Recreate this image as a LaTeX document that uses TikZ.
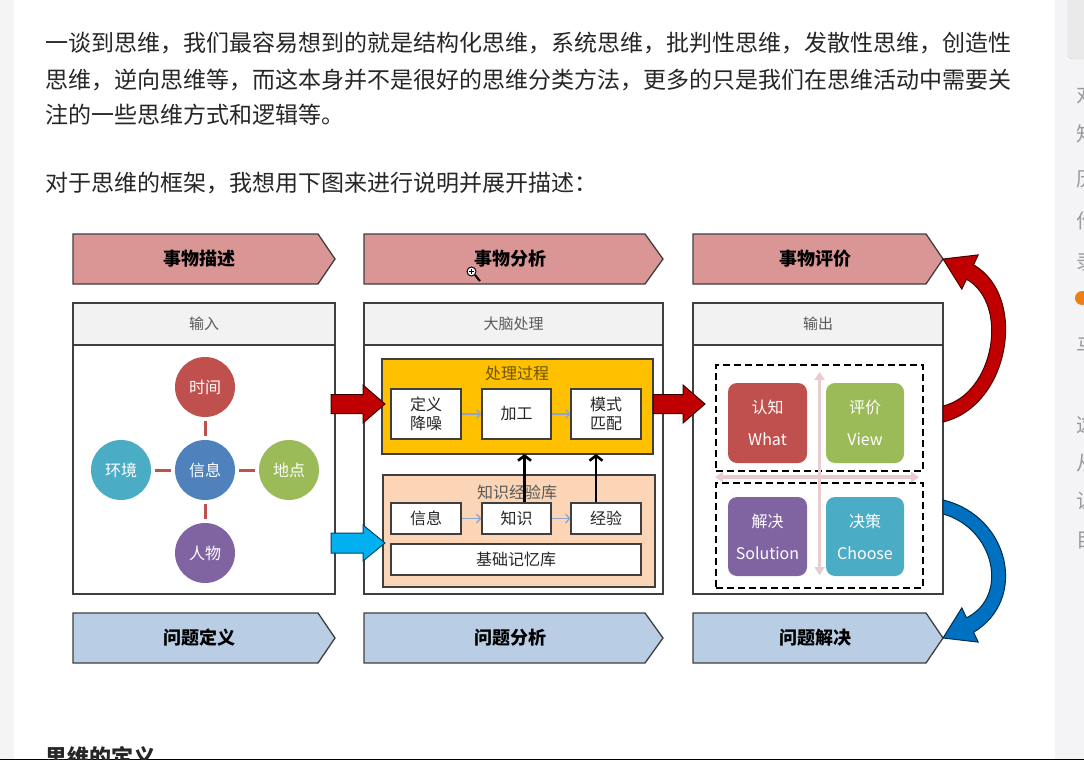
\documentclass[tikz,border=0pt]{standalone}
\usepackage{fontspec}
\setmainfont{Noto Sans CJK SC}
\usetikzlibrary{calc,arrows.meta}
\definecolor{cText}{HTML}{262626}
\definecolor{cPage}{HTML}{F4F4F4}
\definecolor{cSide}{HTML}{F4F4F6}
\definecolor{cSideBlk}{HTML}{EAEAEA}
\definecolor{cSideTxt}{HTML}{9A9A9A}
\definecolor{cHdrRed}{HTML}{D99694}
\definecolor{cHdrBlue}{HTML}{B9CDE5}
\definecolor{cLine}{HTML}{3F3F3F}
\definecolor{cStrip}{HTML}{F2F2F2}
\definecolor{cRed}{HTML}{C0504D}
\definecolor{cBlue}{HTML}{4F81BD}
\definecolor{cTeal}{HTML}{4BACC6}
\definecolor{cGreen}{HTML}{9BBB59}
\definecolor{cPurple}{HTML}{8064A2}
\definecolor{cYellow}{HTML}{FFC000}
\definecolor{cPeach}{HTML}{FBD5B5}
\definecolor{cGreyArr}{HTML}{8EA6CC}
\definecolor{cPink}{HTML}{E8CCD0}
\definecolor{cDarkRed}{HTML}{C00000}
\definecolor{cCyan}{HTML}{00B0F0}
\definecolor{cRibBlue}{HTML}{0070C0}
\definecolor{cTitle}{HTML}{595959}
\definecolor{cProcTitle}{HTML}{6B5400}
\begin{document}
\begin{tikzpicture}[x=1pt,y=-1pt,
  bodytext/.style={anchor=west,inner sep=0pt,text=cText,font=\fontsize{23}{23}\selectfont},
  sidetxt/.style={anchor=west,inner sep=0pt,text=cSideTxt,font=\fontsize{20}{20}\selectfont},
  hdrR/.style={fill=cHdrRed,draw=cLine,line width=1.3pt,line join=miter},
  hdrB/.style={fill=cHdrBlue,draw=cLine,line width=1.3pt,line join=miter},
  hdrtext/.style={inner sep=0pt,text=black,font=\fontsize{18}{18}\selectfont\bfseries},
  colbox/.style={anchor=north west,draw=cLine,line width=1.5pt,fill=white,inner sep=0pt,outer sep=0pt},
  strip/.style={anchor=north west,draw=cLine,line width=1.5pt,fill=cStrip,inner sep=0pt,outer sep=0pt,
     text=cTitle,font=\fontsize{15}{15}\selectfont},
  ball/.style={circle,minimum size=60pt,inner sep=0pt,text=white,font=\fontsize{16}{16}\selectfont},
  link/.style={draw=cRed,line width=3pt,shorten <=4pt,shorten >=4pt},
  area/.style={anchor=north west,draw=cLine,line width=1.2pt,inner sep=0pt,outer sep=0pt},
  areatitle/.style={inner sep=0pt,font=\fontsize{16}{16}\selectfont},
  ibox/.style={draw=cLine,line width=1.2pt,fill=white,inner sep=0pt,align=center,
     text=cText,font=\fontsize{16}{19}\selectfont},
  garr/.style={draw=cGreyArr,line width=1.3pt,-{Straight Barb[length=4pt,width=9pt]}},
  barr/.style={draw=black,line width=2.6pt,-{Straight Barb[length=5pt,width=13pt]}},
  dashbox/.style={anchor=north west,draw=black,line width=2.2pt,dash pattern=on 7pt off 4pt,inner sep=0pt},
  tile/.style={rounded corners=9pt,inner sep=0pt,align=center,text=white,font=\fontsize{16}{32}\selectfont},
  pinkarr/.style={draw=cPink,line width=3.5pt,{Triangle[length=8pt,width=10pt]}-{Triangle[length=8pt,width=10pt]}},
  redblk/.style={fill=cDarkRed,draw=black!70!cDarkRed,line width=1pt,line join=miter},
  blueblk/.style={fill=cCyan,draw=black!60!cCyan,line width=1pt,line join=miter},
  ribR/.style={fill=cDarkRed,draw=black!60!cDarkRed,line width=1pt,line join=miter},
  ribB/.style={fill=cRibBlue,draw=black!60!cRibBlue,line width=1pt,line join=miter}
]
\clip (0,0) rectangle (1084,760);
\fill[white] (0,0) rectangle (1084,760);
\fill[cPage] (0,0) rectangle (14,760);
\fill[cSide] (1055,0) rectangle (1084,760);
\draw[draw=black!15,fill=cSideBlk,rounded corners=4pt] (1068,-10) rectangle (1096,59);
% sidebar clipped characters
\node[sidetxt] (s1) at (1076,95) {对};
\node[sidetxt] (s2) at (1076,134) {知};
\node[sidetxt] (s3) at (1076,179) {历};
\node[sidetxt] (s4) at (1076,221) {作};
\node[sidetxt] (s5) at (1076,262) {录};
\fill[orange!70!brown] (1082,298) circle (7);
\node[sidetxt] (s6) at (1076,346) {马};
\node[sidetxt] (s7) at (1076,425) {这};
\node[sidetxt] (s8) at (1076,463) {从};
\node[sidetxt] (s9) at (1076,501) {让};
\node[sidetxt] (s10) at (1076,540) {目};
\draw[black] (0,759.5) -- (1084,759.5);

% body text
\node[bodytext] (p1) at (45,43) {一谈到思维，我们最容易想到的就是结构化思维，系统思维，批判性思维，发散性思维，创造性};
\node[bodytext] (p2) at (45,80) {思维，逆向思维等，而这本身并不是很好的思维分类方法，更多的只是我们在思维活动中需要关};
\node[bodytext] (p3) at (45,115) {注的一些思维方式和逻辑等。};
\node[bodytext] (p4) at (45,183) {对于思维的框架，我想用下图来进行说明并展开描述：};
\node[anchor=west,inner sep=0pt,text=cText,font=\fontsize{22}{22}\selectfont\bfseries] (hd) at (45,757) {思维的定义};

% top headers
\path[hdrR] (73,234) -- (318,234) -- (335,259) coordinate (h1tip) -- (318,284) -- (73,284) -- cycle;
\path[hdrR] (364,234) -- (645,234) -- (663,259) coordinate (h2tip) -- (645,284) -- (364,284) -- cycle;
\path[hdrR] (693,234) -- (926,234) -- (943,259) coordinate (h3tip) -- (926,284) -- (693,284) -- cycle;
\node[hdrtext] (h1) at (199,259) {事物描述};
\node[hdrtext] (h2) at (510,259) {事物分析};
\node[hdrtext] (h3) at (815,259) {事物评价};

% bottom headers
\path[hdrB] (73,613) -- (318,613) -- (335,638) coordinate (b1tip) -- (318,663) -- (73,663) -- cycle;
\path[hdrB] (364,613) -- (645,613) -- (663,638) coordinate (b2tip) -- (645,663) -- (364,663) -- cycle;
\path[hdrB] (693,613) -- (926,613) -- (943,638) coordinate (b3tip) -- (926,663) -- (693,663) -- cycle;
\node[hdrtext] (g1) at (199,638) {问题定义};
\node[hdrtext] (g2) at (510,638) {问题分析};
\node[hdrtext] (g3) at (815,638) {问题解决};

% column boxes
\node[colbox,minimum width=262pt,minimum height=291pt] (in) at (73,303) {};
\node[colbox,minimum width=299pt,minimum height=291pt] (brain) at (364,303) {};
\node[colbox,minimum width=250pt,minimum height=291pt] (out) at (693,303) {};
\node[strip,minimum width=262pt,minimum height=42pt] (inT) at (73,303) {输入};
\node[strip,minimum width=299pt,minimum height=42pt] (brainT) at (364,303) {大脑处理};
\node[strip,minimum width=250pt,minimum height=42pt] (outT) at (693,303) {输出};

% column 1 circles
\node[ball,fill=cRed] (time) at (205,387) {时间};
\node[ball,fill=cBlue] (info) at (205,470) {信息};
\node[ball,fill=cTeal] (env) at (121,470) {环境};
\node[ball,fill=cGreen] (place) at (289,470) {地点};
\node[ball,fill=cPurple] (who) at (205,553) {人物};
\draw[link] (time) -- (info);
\draw[link] (env) -- (info);
\draw[link] (info) -- (place);
\draw[link] (info) -- (who);

% column 2
\node[area,fill=cYellow,minimum width=271pt,minimum height=95pt] (proc) at (382,359) {};
\node[areatitle,text=cProcTitle] (procT) at (517,373) {处理过程};
\node[ibox,minimum width=70pt,minimum height=50pt] (dy) at (426,414) {定义\\降噪};
\node[ibox,minimum width=69pt,minimum height=50pt] (jg) at (516.5,414) {加工};
\node[ibox,minimum width=70pt,minimum height=50pt] (ms) at (606,414) {模式\\匹配};
\draw[garr] (dy) -- (jg);
\draw[garr] (jg) -- (ms);

\node[area,fill=cPeach,minimum width=272pt,minimum height=112pt] (kb) at (383,475) {};
\node[areatitle,text=cTitle] (kbT) at (517,492) {知识经验库};
\node[ibox,minimum width=70pt,minimum height=31pt] (xx) at (426,518.5) {信息};
\node[ibox,minimum width=69pt,minimum height=31pt] (zs) at (516.5,518.5) {知识};
\node[ibox,minimum width=70pt,minimum height=31pt] (jy) at (606,518.5) {经验};
\node[ibox,minimum width=250pt,minimum height=31pt] (jc) at (516,559.5) {基础记忆库};
\draw[garr] (xx) -- (zs);
\draw[garr] (zs) -- (jy);
\draw[barr] ([xshift=8pt]zs.north) -- ([xshift=8pt]zs.north |- proc.south);
\draw[barr] ([xshift=-10pt]jy.north) -- ([xshift=-10pt]jy.north |- proc.south);

% column 3
\node[dashbox,minimum width=207pt,minimum height=106pt] (dtop) at (715,364) {};
\node[dashbox,minimum width=207pt,minimum height=105pt] (dbot) at (715,482) {};
\draw[pinkarr] ([yshift=-8pt]dtop.north) -- ([yshift=14pt]dbot.south);
\draw[pinkarr] ($(dtop.south west)!0.5!(dbot.north west)$) -- ($(dtop.south east)!0.5!(dbot.north east)+(-5,0)$);
\node[tile,fill=cRed,minimum width=79pt,minimum height=80pt] (what) at (767.5,423) {认知\\What};
\node[tile,fill=cGreen,minimum width=78pt,minimum height=80pt] (view) at (865,423) {评价\\View};
\node[tile,fill=cPurple,minimum width=79pt,minimum height=79pt] (sol) at (767.5,536.5) {解决\\Solution};
\node[tile,fill=cTeal,minimum width=78pt,minimum height=79pt] (cho) at (865,536.5) {决策\\Choose};

% block arrows
\coordinate (a1) at ($(proc.west)+(3,-2.5)$);
\draw[redblk] (a1) -- ++(-22,-19) -- ++(0,9.5) -- ++(-32,0) -- ++(0,19) -- ++(32,0) -- ++(0,9.5) -- cycle;
\coordinate (bb1) at ($(kb.west)+(2,12)$);
\draw[blueblk] (bb1) -- ++(-22,-18) -- ++(0,8) -- ++(-32,0) -- ++(0,20) -- ++(32,0) -- ++(0,8) -- cycle;
\coordinate (a2) at ($(proc.east)+(52,-2.5)$);
\draw[redblk] (a2) -- ++(-22,-19) -- ++(0,9.5) -- ++(-30,0) -- ++(0,19) -- ++(30,0) -- ++(0,9.5) -- cycle;

% curved ribbons
\draw[ribR] ($(h3tip)+(0,163)$) .. controls ($(h3tip)+(67,147)$) and ($(h3tip)+(85,37)$) .. ($(h3tip)+(30.5,5.8)$)
  -- ($(h3tip)+(35.2,-4.1)$) -- (h3tip) -- ($(h3tip)+(18.8,30.1)$) -- ($(h3tip)+(23.5,20.2)$)
  .. controls ($(h3tip)+(67,45)$) and ($(h3tip)+(51,135)$) .. ($(h3tip)+(0,147)$) -- cycle;
\draw[ribB] ($(b3tip)+(0,-138)$) .. controls ($(b3tip)+(67,-122)$) and ($(b3tip)+(85,-38)$) .. ($(b3tip)+(30.5,-5.8)$)
  -- ($(b3tip)+(35.2,4.1)$) -- (b3tip) -- ($(b3tip)+(18.8,-30.1)$) -- ($(b3tip)+(23.5,-20.2)$)
  .. controls ($(b3tip)+(67,-42)$) and ($(b3tip)+(51,-110)$) .. ($(b3tip)+(0,-124)$) -- cycle;

% cursor
\draw[black,line width=2pt] (475,275) -- (480,281);
\draw[black,fill=white,line width=1pt] (471.5,271.5) circle (4.5);
\draw[black,line width=0.8pt] (469,271.5) -- (474,271.5) (471.5,269) -- (471.5,274);
\end{tikzpicture}
\end{document}
